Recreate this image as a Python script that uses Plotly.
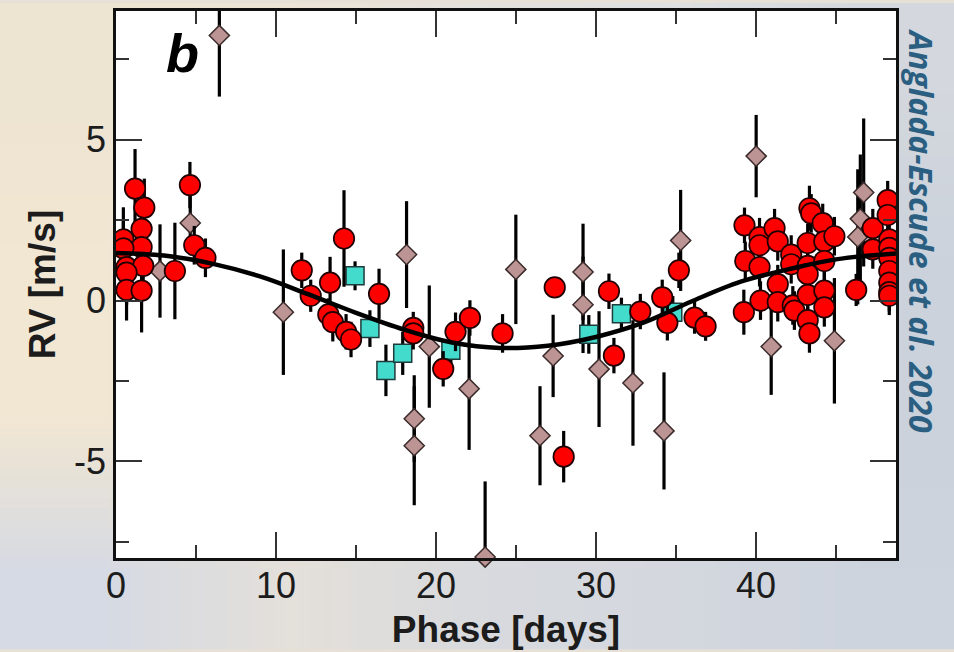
import base64, struct, zlib
import plotly.graph_objects as go

# ---------------- data ----------------
# brown diamonds
dia_phase = [6.46, 4.64, 2.75, 10.46, 18.16, 19.58, 18.64, 18.64, 22.07, 24.99, 26.50, 27.32, 23.07,
             29.19, 29.19, 30.19, 32.31, 34.25, 35.29, 40.01, 40.95, 44.90, 46.73, 46.52, 46.36]
dia_rv = [8.24, 2.41, 0.92, -0.36, 1.43, -1.43, -3.67, -4.51, -2.74, 0.97, -4.20, -1.72, -7.97,
          0.89, -0.13, -2.13, -2.56, -4.05, 1.87, 4.49, -1.43, -1.25, 3.36, 2.54, 1.98]
dia_err_hi = [0.76, 1.00, 1.45, 1.95, 1.66, 1.90, 1.35, 1.85, 1.90, 1.70, 1.54, 1.28, 2.35,
              1.50, 1.50, 1.80, 1.95, 1.82, 1.57, 1.28, 1.50, 1.95, 2.30, 2.00, 2.10]
dia_err_lo = [1.90, 1.00, 1.45, 1.95, 1.66, 1.90, 1.35, 1.85, 1.90, 1.70, 1.54, 1.28, 0.00,
              1.50, 1.50, 1.80, 1.95, 1.82, 1.57, 1.28, 1.50, 1.95, 2.30, 2.00, 2.10]

# cyan squares
sq_phase = [14.94, 15.87, 16.87, 17.92, 20.93, 29.55, 31.59, 34.80]
sq_rv = [0.77, -0.87, -2.17, -1.64, -1.54, -1.05, -0.41, -0.36]
sq_err = [0.45, 0.57, 0.80, 0.67, 0.50, 0.60, 0.50, 0.50]

# red circles
red_phase = [1.19, 1.77, 1.60, 0.46, 1.60, 0.46, 0.66, 1.70, 0.66, 0.66, 1.60, 3.68, 4.62, 4.89, 5.59,
             11.61, 12.17, 13.38, 13.27, 13.55, 14.38, 14.69, 14.25, 16.44, 18.58, 18.58, 21.22, 22.12,
             20.45, 24.16, 27.42, 30.81, 31.12, 32.77, 34.14, 34.46, 35.18, 36.16, 36.85, 27.98,
             39.28, 39.33, 39.24, 40.22, 40.22, 40.22, 40.28, 41.16, 41.36, 41.36, 41.36, 42.20, 42.20,
             42.30, 42.40, 43.23, 43.34, 43.45, 43.23, 43.23, 43.23, 43.23, 43.34, 44.17, 44.27, 44.90,
             44.27, 44.27, 44.27, 46.26, 47.30, 47.30, 48.23, 48.23, 48.33, 48.33, 48.33, 48.33, 48.33,
             48.33, 48.33]
red_rv = [3.48, 2.89, 2.23, 1.90, 1.66, 1.62, 1.04, 1.08, 0.87, 0.33, 0.31, 0.92, 3.59, 1.72, 1.33,
          0.94, 0.15, 0.56, -0.43, -0.67, -0.97, -1.21, 1.93, 0.21, -0.85, -1.02, -0.97, -0.54,
          -2.12, -1.02, 0.41, 0.29, -1.71, -0.34, 0.10, -0.69, 0.94, -0.53, -0.80, -4.85,
          2.34, 1.23, -0.36, 1.97, 1.72, 1.04, 0.00, 2.25, 1.84, 0.51, -0.05, 1.43, 1.13,
          -0.15, -0.31, 1.79, 2.87, 2.71, 1.08, 0.82, 0.18, -0.61, -1.02, 2.41, 1.84, 2.00,
          1.23, 0.31, -0.21, 0.33, 2.25, 1.59, 3.12, 2.66, 1.90, 1.64, 1.33, 0.92, 0.56,
          0.26, 0.15]
red_err = [1.23, 0.90, 0.90, 1.00, 0.90, 0.90, 1.00, 1.00, 1.00, 0.95, 1.30, 1.50, 0.72, 0.60, 0.60,
           0.55, 0.50, 0.80, 0.50, 0.60, 0.55, 0.55, 1.50, 0.78, 0.50, 0.50, 0.60, 0.55,
           0.55, 0.60, 0.30, 0.55, 0.55, 0.55, 0.55, 0.55, 0.55, 0.50, 0.45, 0.80,
           0.55, 0.60, 0.70, 0.60, 0.60, 0.60, 0.60, 0.60, 0.60, 0.60, 0.60, 0.60, 0.60,
           0.60, 0.60, 0.60, 0.70, 0.60, 0.60, 0.60, 0.60, 0.60, 0.60, 0.60, 0.60, 0.60,
           0.60, 0.60, 0.60, 0.50, 0.60, 0.60, 0.60, 0.60, 0.60, 0.60, 0.60, 0.60, 0.60,
           0.60, 0.60]

# model curve
curve_phase = [0, 3, 6, 9, 12, 15, 18, 21, 24, 27, 30, 33, 36, 39, 42, 45, 48.75]
curve_rv = [1.48, 1.40, 1.15, 0.75, 0.20, -0.38, -0.90, -1.30, -1.47, -1.40, -1.13, -0.68, -0.02,
            0.58, 0.97, 1.28, 1.46]

x_ticks = [0, 10, 20, 30, 40]
y_ticks = [-5, 0, 5]


# ---------------- background (soft blurred sky) ----------------
def make_png(rows):
    h = len(rows)
    w = len(rows[0])
    raw = b"".join(b"\x00" + bytes([c for px in row for c in px]) for row in rows)

    def chunk(tag, data):
        return struct.pack(">I", len(data)) + tag + data + struct.pack(">I", zlib.crc32(tag + data) & 0xffffffff)

    return (b"\x89PNG\r\n\x1a\n" + chunk(b"IHDR", struct.pack(">IIBBBBB", w, h, 8, 2, 0, 0, 0))
            + chunk(b"IDAT", zlib.compress(raw)) + chunk(b"IEND", b""))


bg_rows = [
    [(238, 228, 210), (236, 228, 214), (228, 226, 222), (222, 224, 226), (212, 216, 222)],
    [(242, 231, 211), (240, 230, 214), (230, 228, 222), (220, 222, 226), (204, 211, 220)],
    [(242, 231, 210), (238, 228, 212), (228, 226, 222), (218, 220, 226), (203, 210, 220)],
    [(214, 218, 228), (228, 224, 218), (216, 218, 222), (212, 216, 222), (206, 212, 222)],
]
bg_uri = "data:image/png;base64," + base64.b64encode(make_png(bg_rows)).decode()

W, H = 954, 652
ML, MR, MT, MB = 116, 58, 8, 92
PW, PH = W - ML - MR, H - MT - MB

fig = go.Figure()

err_style = dict(type="data", color="black", thickness=3.2, width=0, symmetric=False)

fig.add_trace(go.Scatter(
    x=dia_phase, y=dia_rv, mode="markers", cliponaxis=False,
    marker=dict(symbol="diamond", size=15.5, color="#bc9494", line=dict(color="#3a2a2a", width=1.5)),
    error_y=dict(err_style, array=dia_err_hi, arrayminus=dia_err_lo),
))
fig.add_trace(go.Scatter(
    x=sq_phase, y=sq_rv, mode="markers",
    marker=dict(symbol="square", size=18, color="#43dccc", line=dict(color="#1e3a3a", width=1.5)),
    error_y=dict(err_style, array=sq_err, arrayminus=sq_err),
))
fig.add_trace(go.Scatter(
    x=red_phase, y=red_rv, mode="markers",
    marker=dict(symbol="circle", size=20.5, color="#ff0000", line=dict(color="#200000", width=1.7)),
    error_y=dict(err_style, array=red_err, arrayminus=red_err),
))
fig.add_trace(go.Scatter(
    x=curve_phase, y=curve_rv, mode="lines",
    line=dict(color="black", width=4.5, shape="spline", smoothing=1.0),
))

tick_font = dict(family="Liberation Sans, Arial, Helvetica, sans-serif", size=36, color="#1c1c1c")
title_font = dict(family="Liberation Sans, Arial, Helvetica, sans-serif", size=37, color="#1c1c1c",
                  weight="bold")

fig.update_layout(
    width=W, height=H,
    margin=dict(l=ML, r=MR, t=MT, b=MB),
    paper_bgcolor="#e6e0d6",
    plot_bgcolor="white",
    showlegend=False,
    images=[dict(source=bg_uri, xref="paper", yref="paper",
                 x=-ML / PW, y=1 + MT / PH, sizex=W / PW, sizey=H / PH,
                 xanchor="left", yanchor="top", sizing="stretch", layer="below")],
    shapes=[dict(type="rect", xref="paper", yref="paper", x0=0, x1=1, y0=0, y1=1,
                 fillcolor="white", line=dict(width=0), layer="below")],
    xaxis=dict(
        range=[0, 48.75], tickvals=x_ticks, ticktext=[str(v) for v in x_ticks],
        ticks="inside", ticklen=26, tickwidth=2.2, tickcolor="#333",
        minor=dict(dtick=5, tick0=0, ticks="inside", ticklen=13, tickwidth=2.2, tickcolor="#333"),
        showline=True, linecolor="#111", linewidth=2.5, mirror="allticks",
        showgrid=False, zeroline=False, tickfont=tick_font, ticklabelstandoff=-6,
        title=dict(text="Phase [days]", font=title_font, standoff=12),
    ),
    yaxis=dict(
        range=[-8, 9], tickvals=y_ticks, ticktext=[str(v) for v in y_ticks],
        ticks="inside", ticklen=26, tickwidth=2.2, tickcolor="#333",
        minor=dict(dtick=2.5, tick0=0, ticks="inside", ticklen=13, tickwidth=2.2, tickcolor="#333"),
        showline=True, linecolor="#111", linewidth=2.5, mirror="allticks",
        showgrid=False, zeroline=False, tickfont=tick_font,
        title=dict(text="RV [m/s]", font=title_font, standoff=8),
    ),
    annotations=[
        dict(text="b", xref="paper", yref="paper", x=(182 - ML) / PW, y=1 - (50 - MT) / PH,
             xanchor="center", yanchor="middle", showarrow=False,
             font=dict(family="Liberation Sans, Arial, Helvetica, sans-serif", size=54, color="black",
                       weight="bold", style="italic")),
        dict(text="Anglada-Escude et al. 2020", xref="paper", yref="paper",
             x=(921 - ML) / PW, y=1 - (230 - MT) / PH, xanchor="center", yanchor="middle",
             textangle=90, showarrow=False,
             font=dict(family="Open Sans, Noto Sans, sans-serif", size=32, color="#2b5f82",
                       weight="bold", style="italic")),
    ],
)

fig.write_html("out.html")
